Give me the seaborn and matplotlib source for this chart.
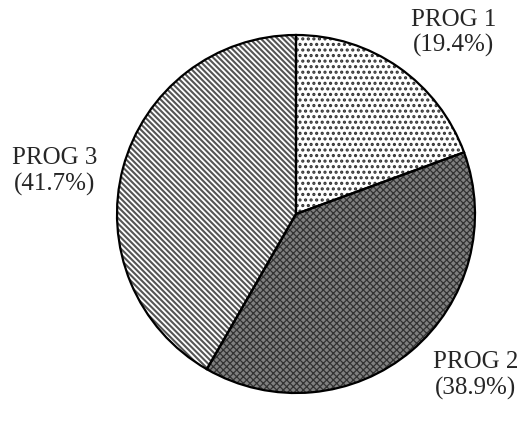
import seaborn as sns
import numpy as np
from matplotlib import pyplot as plt

# chart data
programs = ['PROG 1', 'PROG 2', 'PROG 3']
shares = [19.4, 38.9, 41.7]

sns.set_theme(style='white')
plt.rcParams['font.family'] = ['Liberation Serif', 'DejaVu Serif']
plt.rcParams['hatch.linewidth'] = 1.5

face_colors = ['white', '#808080', 'white']
hatch_colors = ['#333333', '#333333', '#555555']
hatches = ['...', 'xxxxx', '\\\\\\\\\\\\']
hatch_widths = [1.5, 0.9, 1.5]

fig = plt.figure(figsize=(5.25, 4.41), dpi=100)
ax = fig.add_axes([(296 - 179) / 525, (441 - 214 - 179) / 441, 358 / 525, 358 / 441])

# filled and hatched wedges
wedges, _ = ax.pie(shares, startangle=90, counterclock=False, radius=1,
                   wedgeprops=dict(linewidth=0))
for w, fc, hc, h, hw in zip(wedges, face_colors, hatch_colors, hatches, hatch_widths):
    w.set_facecolor(fc)
    w.set_edgecolor(hc)
    w.set_hatch(h)
    if hasattr(w, 'set_hatch_linewidth'):
        w.set_hatch_linewidth(hw)
    else:
        w._hatch_linewidth = hw

# outlines on top
labels = [f'{p}\n({s}%)' for p, s in zip(programs, shares)]
outline, texts = ax.pie(shares, startangle=90, counterclock=False, radius=1,
                        labels=labels, labeldistance=1.3,
                        wedgeprops=dict(fill=False, edgecolor='black', linewidth=1.6),
                        textprops=dict(fontsize=18, ha='center', va='center',
                                       linespacing=1.2))

# nudge labels to where the reference puts them (angle, distance)
label_pos = [(49, 1.34), (-42, 1.35), (170, 1.37)]
for t, (ang, d) in zip(texts, label_pos):
    a = np.deg2rad(ang)
    t.set_position((d * np.cos(a), d * np.sin(a)))
    t.set_ha('center')

ax.set_xlim(-1, 1)
ax.set_ylim(-1, 1)
ax.set_aspect('equal')
ax.axis('off')

fig.savefig('out.png', dpi=100)
